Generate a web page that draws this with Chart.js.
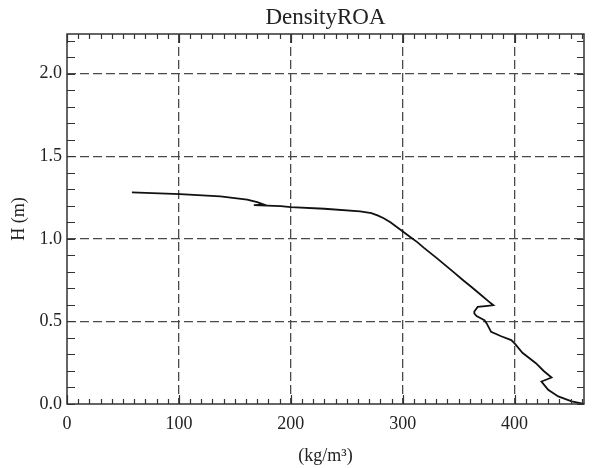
<!DOCTYPE html>
<html>
<head>
<meta charset="utf-8">
<script src="https://cdn.jsdelivr.net/npm/chart.js@4/dist/chart.umd.min.js"></script>
<style>
  html, body { margin: 0; padding: 0; background: #fff; }
  #wrap { width: 595px; height: 468px; position: relative; }
</style>
</head>
<body>
<div id="wrap"><canvas id="c"></canvas></div>
<script>
// ---- data ----
const chartTitle = "DensityROA";
const xTitle = "(kg/m\u00B3)";
const yTitle = "H (m)";
const density = [58, 101, 137, 161, 170, 176, 167, 191, 200, 230, 262, 272, 278, 283, 289, 295, 301, 307, 313, 319, 331, 346, 354, 362, 370, 377, 381, 376, 367, 364, 364, 366, 373, 375, 379, 388, 397, 400, 407, 419, 426, 433, 424, 430, 439, 451, 462];
const height  = [1.281, 1.271, 1.257, 1.237, 1.222, 1.207, 1.204, 1.198, 1.192, 1.182, 1.166, 1.155, 1.140, 1.125, 1.100, 1.070, 1.040, 1.010, 0.980, 0.945, 0.880, 0.795, 0.749, 0.705, 0.660, 0.620, 0.598, 0.594, 0.588, 0.560, 0.548, 0.532, 0.508, 0.488, 0.437, 0.410, 0.387, 0.367, 0.310, 0.247, 0.200, 0.160, 0.136, 0.086, 0.046, 0.016, 0.000];
const xTicks = [0, 100, 200, 300, 400];
const yTicks = [0.0, 0.5, 1.0, 1.5, 2.0];
const xMin = 0, xMax = 462, xMinorStep = 10;
const yMin = 0, yMax = 2.24, yMinorStep = 0.1;

const points = density.map((d, i) => ({ x: d, y: height[i] }));
const serif = "'Liberation Serif', 'Times New Roman', serif";

const frameTicks = {
  id: 'frameTicks',
  afterDraw(chart) {
    const ctx = chart.ctx, a = chart.chartArea;
    const xs = chart.scales.x, ys = chart.scales.y;
    ctx.save();
    ctx.setLineDash([]);
    ctx.strokeStyle = '#333';
    ctx.lineWidth = 1.2;
    ctx.beginPath();
    for (let v = xMin; v <= xMax + 1e-9; v += xMinorStep) {
      const px = Math.round(xs.getPixelForValue(v)) + 0.5;
      const len = (Math.abs(v % 100) < 1e-9) ? 9 : 5;
      ctx.moveTo(px, a.bottom); ctx.lineTo(px, a.bottom - len);
      ctx.moveTo(px, a.top); ctx.lineTo(px, a.top + len);
    }
    for (let k = 0; k * yMinorStep <= yMax + 1e-9; k++) {
      const v = k * yMinorStep;
      const py = Math.round(ys.getPixelForValue(v)) + 0.5;
      ctx.moveTo(a.left, py); ctx.lineTo(a.left + 8, py);
      ctx.moveTo(a.right, py); ctx.lineTo(a.right - 7, py);
    }
    ctx.stroke();
    ctx.lineWidth = 1.5;
    ctx.strokeStyle = '#333';
    ctx.strokeRect(a.left, a.top, a.right - a.left, a.bottom - a.top);
    ctx.restore();
  }
};

new Chart(document.getElementById('c'), {
  type: 'scatter',
  data: {
    datasets: [{
      data: points,
      showLine: true,
      borderColor: '#111',
      borderWidth: 1.8,
      pointRadius: 0,
      tension: 0,
      fill: false
    }]
  },
  options: {
    responsive: true,
    maintainAspectRatio: false,
    animation: false,
    layout: { padding: { left: 0, right: 11, top: 0, bottom: 0 } },
    plugins: {
      legend: { display: false },
      tooltip: { enabled: false },
      title: {
        display: true,
        text: chartTitle,
        fullSize: false,
        color: '#222',
        font: { family: serif, size: 23, weight: 'normal' },
        padding: { top: 4, bottom: 2.4 }
      }
    },
    scales: {
      x: {
        type: 'linear',
        min: xMin, max: xMax,
        afterFit(s) { s.height = 64; },
        afterBuildTicks(s) { s.ticks = xTicks.map(v => ({ value: v })); },
        ticks: {
          includeBounds: false,
          color: '#222',
          padding: 9,
          maxRotation: 0,
          font: { family: serif, size: 18 },
          callback: v => String(v)
        },
        grid: {
          drawTicks: false,
          color: c => (c.tick && c.tick.value === xMin) ? 'rgba(0,0,0,0)' : '#4a4a4a',
          lineWidth: 1.3
        },
        border: { display: false, dash: [9, 4] },
        title: {
          display: true,
          text: xTitle,
          color: '#222',
          font: { family: serif, size: 18 },
          padding: { top: 0, bottom: 1 }
        }
      },
      y: {
        type: 'linear',
        min: yMin, max: yMax,
        afterFit(s) { s.width = 67; },
        afterBuildTicks(s) { s.ticks = yTicks.map(v => ({ value: v })); },
        ticks: {
          includeBounds: false,
          color: '#222',
          padding: 5,
          font: { family: serif, size: 18 },
          callback: v => Number(v).toFixed(1)
        },
        grid: {
          drawTicks: false,
          color: c => (c.tick && c.tick.value === yMin) ? 'rgba(0,0,0,0)' : '#4a4a4a',
          lineWidth: 1.3
        },
        border: { display: false, dash: [9, 4] },
        title: {
          display: true,
          text: yTitle,
          color: '#222',
          font: { family: serif, size: 18 },
          padding: { top: 8, bottom: 0 }
        }
      }
    }
  },
  plugins: [frameTicks]
});
</script>
</body>
</html>
